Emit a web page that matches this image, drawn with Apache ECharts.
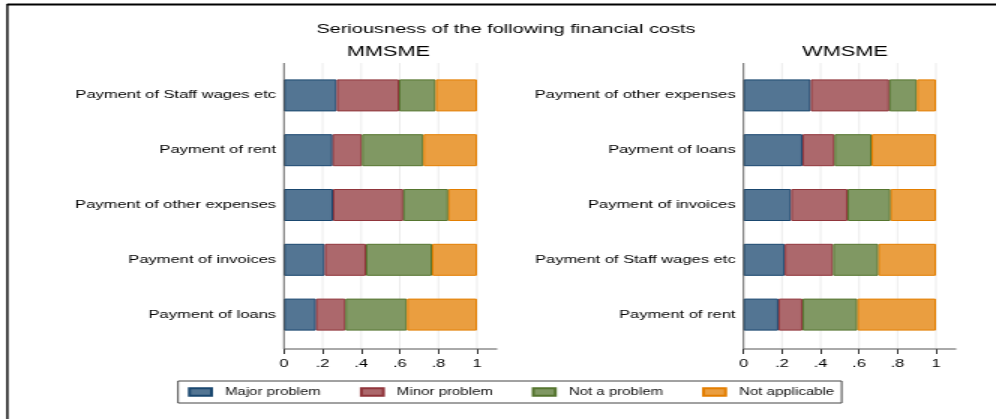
<!DOCTYPE html>
<html>
<head>
<meta charset="utf-8">
<script src="https://cdn.jsdelivr.net/npm/echarts@6.0.0/dist/echarts.min.js"></script>
<style>
html, body { margin: 0; padding: 0; background: #fff; overflow: hidden; }
/* the source picture is a horizontally stretched export, so draw narrow and stretch x */
#myChart { width: 664px; height: 419px; transform: scaleX(1.5); transform-origin: 0 0; }
</style>
</head>
<body>
<div id="myChart"></div>
<script>
var legendNames = ['Major problem', 'Minor problem', 'Not a problem', 'Not applicable']

var mmsmeCats = ['Payment of Staff wages etc', 'Payment of rent', 'Payment of other expenses', 'Payment of invoices', 'Payment of loans']
var mmsmeMajor = [0.273, 0.252, 0.254, 0.211, 0.166]
var mmsmeMinor = [0.323, 0.152, 0.364, 0.214, 0.152]
var mmsmeNot = [0.190, 0.318, 0.233, 0.342, 0.319]
var mmsmeNA = [0.214, 0.278, 0.149, 0.233, 0.363]

var wmsmeCats = ['Payment of other expenses', 'Payment of loans', 'Payment of invoices', 'Payment of Staff wages etc', 'Payment of rent']
var wmsmeMajor = [0.349, 0.306, 0.247, 0.214, 0.181]
var wmsmeMinor = [0.408, 0.166, 0.293, 0.251, 0.125]
var wmsmeNot = [0.144, 0.193, 0.224, 0.236, 0.286]
var wmsmeNA = [0.099, 0.335, 0.236, 0.299, 0.408]

var xTicks = [0, 0.2, 0.4, 0.6, 0.8, 1]
var xTickText = ['0', '.2', '.4', '.6', '.8', '1']

var fillColors = ['#537593', '#ac686c', '#809863', '#ea9e40']
var edgeColors = ['#1a476f', '#90353b', '#55752f', '#e37e00']
var font = 'Liberation Sans, Arial, sans-serif'

var axisTop = 63
var axisBottom = 349

function makeSeries (groups, idx, stack) {
  return groups.map(function (vals, k) {
    return {
      name: legendNames[k],
      type: 'bar',
      stack: stack,
      xAxisIndex: idx,
      yAxisIndex: idx,
      barWidth: 32,
      data: vals,
      itemStyle: { color: fillColors[k], borderColor: edgeColors[k], borderWidth: 1 }
    }
  })
}

function makeXAxis (idx) {
  return {
    type: 'value',
    gridIndex: idx,
    min: 0,
    max: 1,
    interval: 0.2,
    offset: 7,
    axisLine: { show: false },
    axisTick: { show: true, length: 5, lineStyle: { color: '#333', width: 1 } },
    splitLine: { show: false },
    axisLabel: {
      margin: 9,
      fontSize: 11,
      fontFamily: font,
      color: '#000',
      formatter: function (v) {
        return xTickText[xTicks.indexOf(Math.round(v * 10) / 10)]
      }
    }
  }
}

function makeYAxis (idx, cats) {
  return {
    type: 'category',
    gridIndex: idx,
    inverse: true,
    data: cats,
    axisLine: { show: false },
    axisTick: { show: false },
    axisLabel: { margin: 5.3, fontSize: 11, fontFamily: font, color: '#000' }
  }
}

var myChart = echarts.init(document.getElementById('myChart'))
var option = {
  animation: false,
  grid: [
    { left: 189.3, width: 128.7, top: 68, height: 274 },
    { left: 495.7, width: 128.3, top: 68, height: 274 }
  ],
  xAxis: [makeXAxis(0), makeXAxis(1)],
  yAxis: [makeYAxis(0, mmsmeCats), makeYAxis(1, wmsmeCats)],
  legend: {
    data: legendNames,
    left: 118.7,
    top: 381,
    icon: 'rect',
    itemWidth: 14.7,
    itemHeight: 7.5,
    itemGap: 26,
    padding: [6, 5, 6, 6.6],
    borderColor: '#444',
    borderWidth: 1,
    selectedMode: false,
    textStyle: { fontSize: 10, fontFamily: font, color: '#111', padding: [0, 0, 0, 4] }
  },
  series: makeSeries([mmsmeMajor, mmsmeMinor, mmsmeNot, mmsmeNA], 0, 'm')
    .concat(makeSeries([wmsmeMajor, wmsmeMinor, wmsmeNot, wmsmeNA], 1, 'w'))
}
myChart.setOption(option, true)

// frame, titles, full-height gridlines and axis lines (placed from the axes)
var deco = [
  { type: 'line', shape: { x1: 4.7, y1: 4.5, x2: 664, y2: 4.5 }, style: { stroke: '#000', lineWidth: 2 } },
  { type: 'line', shape: { x1: 4.9, y1: 4, x2: 4.9, y2: 419 }, style: { stroke: '#000', lineWidth: 1.4 } },
  { type: 'text', x: 337.3, y: 29, style: { text: 'Seriousness of the following financial costs', fontSize: 13.3, fontFamily: font, fill: '#000', align: 'center', verticalAlign: 'middle' } },
  { type: 'text', x: 259, y: 51.6, style: { text: 'MMSME', fontSize: 14.5, fontFamily: font, fill: '#000', align: 'center', verticalAlign: 'middle' } },
  { type: 'text', x: 563.3, y: 51.6, style: { text: 'WMSME', fontSize: 14.5, fontFamily: font, fill: '#000', align: 'center', verticalAlign: 'middle' } }
]
;[0, 1].forEach(function (i) {
  var x0 = myChart.convertToPixel({ xAxisIndex: i }, 0)
  var x1 = myChart.convertToPixel({ xAxisIndex: i }, 1)
  xTicks.slice(1).forEach(function (t) {
    var x = myChart.convertToPixel({ xAxisIndex: i }, t)
    deco.push({ type: 'line', z: 0, shape: { x1: x, y1: axisTop, x2: x, y2: axisBottom }, style: { stroke: '#e4e4e4', lineWidth: 0.7 } })
  })
  deco.push({ type: 'line', z: 5, shape: { x1: x0, y1: axisTop, x2: x0, y2: axisBottom }, style: { stroke: '#444', lineWidth: 0.8 } })
  deco.push({ type: 'line', z: 5, shape: { x1: x0, y1: axisBottom, x2: x1 + 13.5, y2: axisBottom }, style: { stroke: '#555', lineWidth: 1 } })
})
myChart.setOption({ graphic: deco })
</script>
</body>
</html>
